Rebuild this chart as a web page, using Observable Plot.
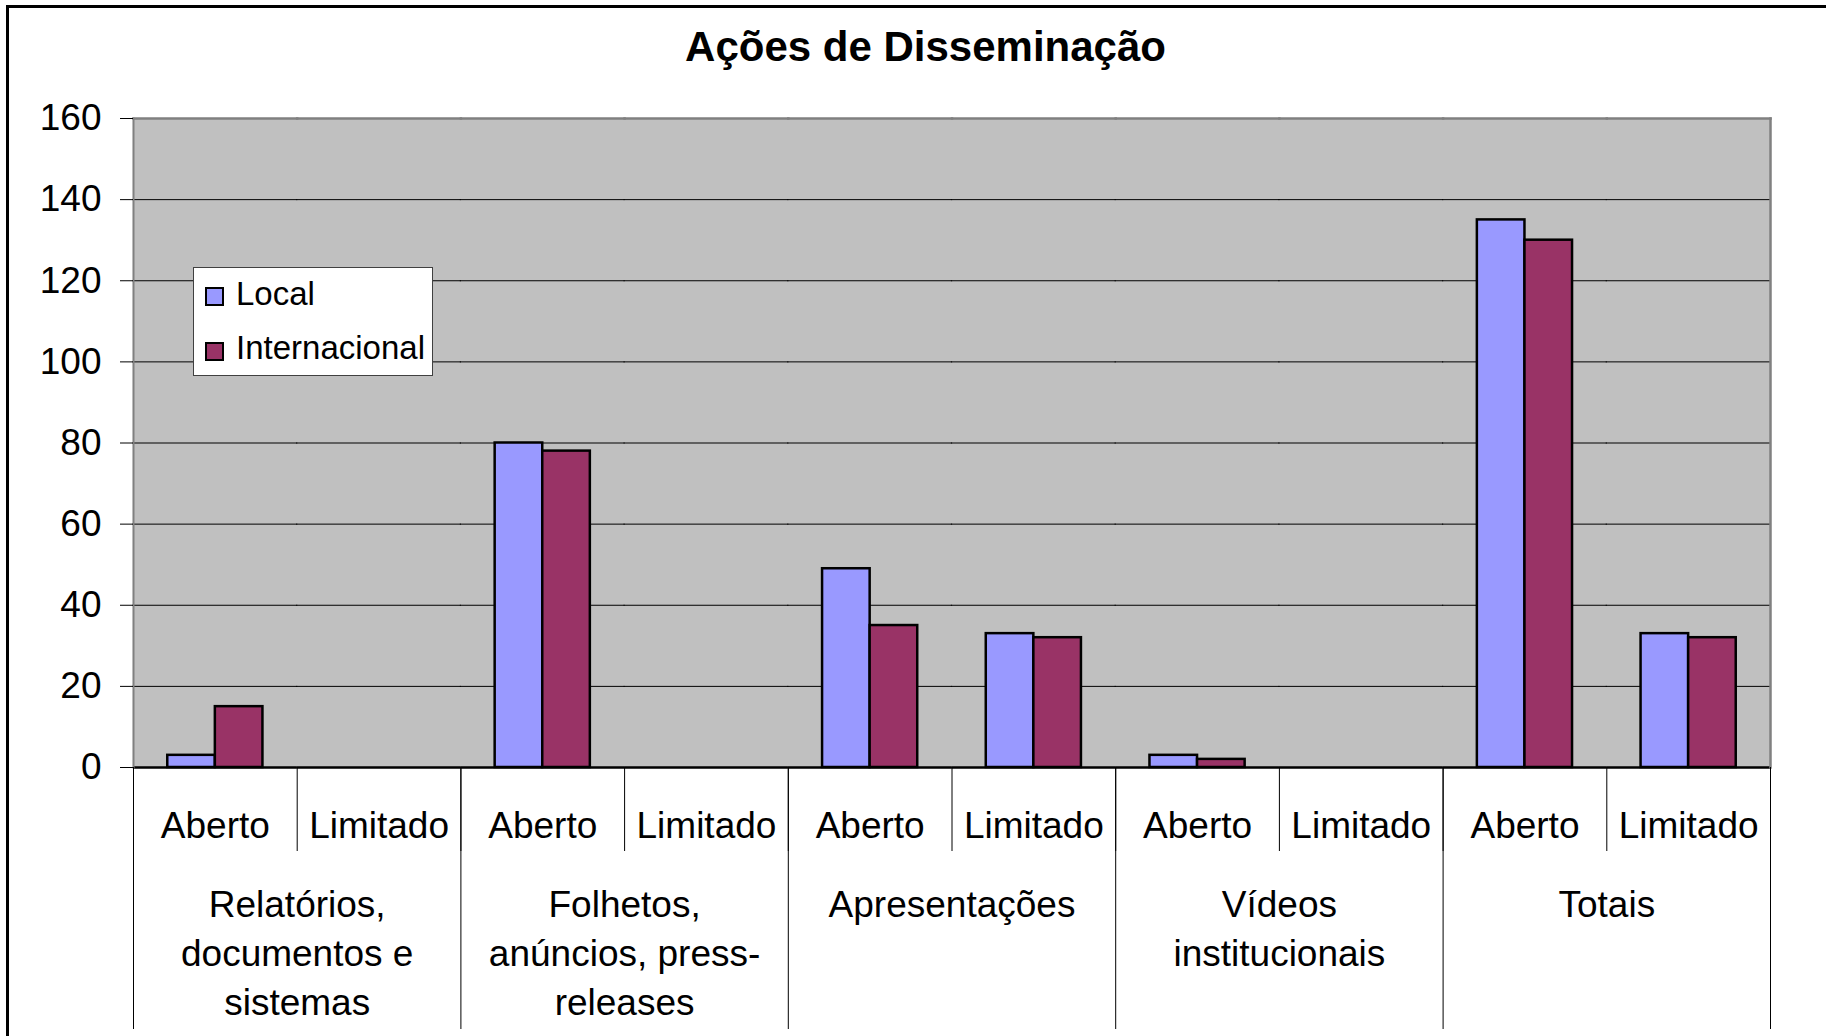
<!DOCTYPE html>
<html><head><meta charset="utf-8">
<script src="https://cdn.jsdelivr.net/npm/d3@7"></script>
<script src="https://cdn.jsdelivr.net/npm/@observablehq/plot@0.6"></script>
<style>
html,body{margin:0;padding:0;background:#fff;overflow:hidden;width:1826px;height:1036px;}
#page{position:absolute;left:6px;top:5px;width:2000px;height:2000px;border:3px solid #000;}
#title{position:absolute;left:0;top:0;width:1826px;height:98px;box-sizing:border-box;padding-top:26px;padding-left:25px;text-align:center;font:bold 42px/42px 'Liberation Sans',Arial,sans-serif;color:#000;white-space:nowrap;}
#chart{position:absolute;left:0;top:98px;}
#legend{position:absolute;left:193px;top:267px;width:240px;height:109px;box-sizing:border-box;border:1px solid #404040;background:#fff;font:33px/33px 'Liberation Sans',Arial,sans-serif;color:#000;}
#legend .sw{position:absolute;left:11px;width:19px;height:19px;box-sizing:border-box;border:2px solid #000;}
#legend .lb{position:absolute;left:42px;white-space:nowrap;}
</style></head>
<body>
<div id="page"></div>
<div id="title">Ações de Disseminação</div>
<div id="chart"></div>
<div id="legend"></div>
<script>
const groups = ["Relatórios,\ndocumentos e\nsistemas", "Folhetos,\nanúncios, press-\nreleases", "Apresentações", "Vídeos\ninstitucionais", "Totais"];
const statuses = ["Aberto", "Limitado"];
const series = ["Local", "Internacional"];
const seriesColors = ["#9999FF", "#993366"];
const localValues = [3, 0, 80, 0, 49, 33, 3, 0, 135, 33];
const internacionalValues = [15, 0, 78, 0, 35, 32, 2, 0, 130, 32];
const yTicks = [0, 20, 40, 60, 80, 100, 120, 140, 160];

const slotKeys = groups.flatMap((g, gi) => statuses.map(s => `${gi}|${s}`));
const rows = slotKeys.flatMap((k, i) => [
  {slot: k, series: series[0], value: localValues[i]},
  {slot: k, series: series[1], value: internacionalValues[i]}
]);

const W = 1826, H = 938, mt = 20, mb = 269, ml = 133, mr = 56;
const plotH = H - mt - mb;

const chart = Plot.plot({
  width: W, height: H,
  marginTop: mt, marginBottom: mb, marginLeft: ml, marginRight: mr,
  style: {fontFamily: "'Liberation Sans', Arial, sans-serif", fontSize: "37px", color: "#000", background: "transparent", overflow: "visible"},
  fx: {domain: slotKeys, padding: 0, round: false, label: null},
  x: {domain: series, paddingInner: 0, paddingOuter: 0.72, round: false, axis: null},
  y: {domain: [0, 160], label: null},
  color: {domain: series, range: seriesColors},
  marks: [
    Plot.frame({fill: "#C0C0C0", insetLeft: -0.6, insetRight: -0.6}),
    Plot.gridY(yTicks.slice(1, -1), {stroke: "#000", strokeOpacity: 1, strokeWidth: 1, insetLeft: -0.6, insetRight: -0.6}),
    Plot.barY(rows.filter(d => d.value > 0), {fx: "slot", x: "series", y: "value", fill: "series", stroke: "#000", strokeWidth: 2.5, inset: 0}),
    Plot.ruleY(rows, {fx: "slot", y: () => 0, stroke: "#000", strokeWidth: 2}),
    Plot.frame({anchor: "top", stroke: "#808080", strokeWidth: 2.5}),
    Plot.frame({anchor: "left", fx: [slotKeys[0]], stroke: "#808080", strokeWidth: 2}),
    Plot.frame({anchor: "right", fx: [slotKeys[slotKeys.length - 1]], stroke: "#808080", strokeWidth: 2.5}),
    Plot.frame({anchor: "left", insetTop: plotH, insetBottom: -83, stroke: "#000", strokeWidth: 1}),
    ...groups.map((g, gi) => Plot.frame({anchor: "left", fx: [`${gi}|${statuses[0]}`], insetTop: plotH, insetBottom: -261, stroke: "#000", strokeWidth: 1})),
    Plot.frame({anchor: "right", fx: [slotKeys[slotKeys.length - 1]], insetTop: plotH, insetBottom: -261, stroke: "#000", strokeWidth: 1}),
    Plot.axisY(yTicks, {anchor: "left", tickSize: 13, tickPadding: 19, fontSize: 37, stroke: "#000", label: null}),
    Plot.axisFx({anchor: "bottom", tickSize: 0, tickPadding: 44, tickFormat: k => k.split("|")[1], fontSize: 37, label: null}),
    Plot.text(groups, {fx: (d, i) => `${i}|${statuses[0]}`, text: d => d, frameAnchor: "bottom-right", textAnchor: "middle", lineAnchor: "top", dy: 115, lineHeight: 1.324, fontSize: 37, fill: "#000"})
  ]
});
document.getElementById("chart").appendChild(chart);

const legend = document.getElementById("legend");
series.forEach((s, i) => {
  const sw = document.createElement("div");
  sw.className = "sw";
  sw.style.top = (19 + i * 55) + "px";
  sw.style.background = seriesColors[i];
  legend.appendChild(sw);
  const lb = document.createElement("div");
  lb.className = "lb";
  lb.style.top = (9 + i * 54) + "px";
  lb.textContent = s;
  legend.appendChild(lb);
});
</script>
</body></html>
